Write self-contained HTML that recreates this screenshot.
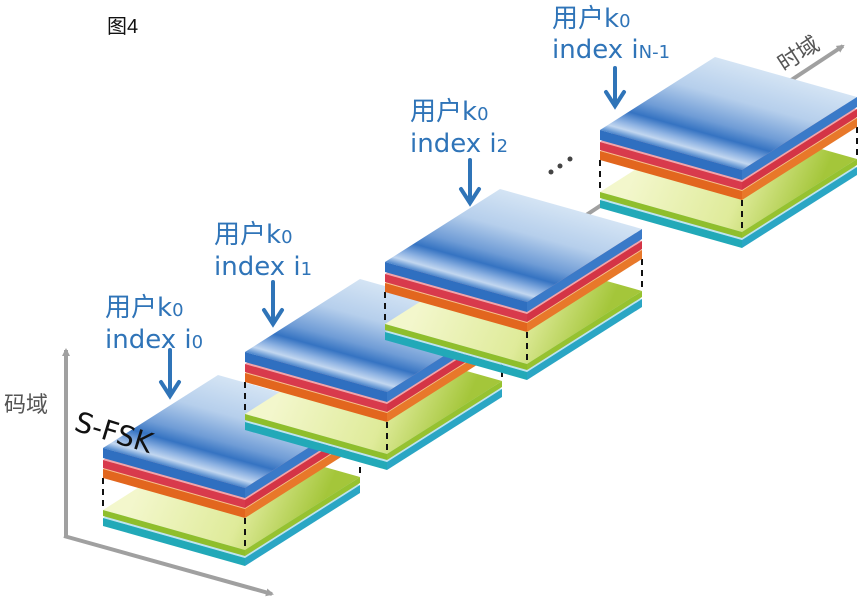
<!DOCTYPE html>
<html><head><meta charset="utf-8"><style>
html,body{margin:0;padding:0;background:#fff;}
svg{display:block;}
text{font-family:"Liberation Sans","Noto Sans CJK SC",sans-serif;}
.lb{font-family:"DejaVu Sans","Noto Sans CJK SC",sans-serif;}
</style></head><body>
<svg width="858" height="599" viewBox="0 0 858 599" xmlns="http://www.w3.org/2000/svg">
<defs>
<linearGradient id="gb" gradientUnits="userSpaceOnUse" x1="98.5" y1="-77.7" x2="71" y2="20">
<stop offset="0" stop-color="#d4e4f4"/><stop offset="0.35" stop-color="#b6cfec"/>
<stop offset="0.62" stop-color="#6f9cd6"/><stop offset="0.75" stop-color="#3573c2"/>
<stop offset="0.86" stop-color="#8db2e2"/><stop offset="0.93" stop-color="#c2d7f0"/>
<stop offset="1" stop-color="#4a85cc"/>
</linearGradient>
<linearGradient id="gg" gradientUnits="userSpaceOnUse" x1="40" y1="30" x2="200" y2="100">
<stop offset="0" stop-color="#f3f7cc"/><stop offset="0.6" stop-color="#dfeb9a"/><stop offset="1" stop-color="#a4c63a"/>
</linearGradient>
<marker id="ah" markerWidth="8" markerHeight="8" refX="6" refY="4" orient="auto" markerUnits="userSpaceOnUse">
<path d="M0,0 L8,4 L0,8 Z" fill="#a0a0a0"/></marker>
<g id="stk">
<polygon points="0,70 142,110 257,37 115,-3" fill="#bfe4ef"/>
<polygon points="0,70 142,110 142,118 0,78" fill="#22a9b8"/>
<polygon points="142,110 257,37 257,45 142,118" fill="#2aa6c4"/>
<polygon points="0,62 142,102 257,29 115,-11" fill="url(#gg)"/>
<polygon points="0,62 142,102 142,108 0,68" fill="#8fbe2c"/>
<polygon points="142,102 257,29 257,35 142,108" fill="#96c230"/>
<g stroke="#111" stroke-width="2" stroke-dasharray="6,5">
<line x1="0" y1="30" x2="0" y2="62"/><line x1="142" y1="70" x2="142" y2="102"/><line x1="257" y1="-3" x2="257" y2="29"/>
</g>
<polygon points="0,21 142,61 257,-12 115,-52" fill="#f7c090"/>
<polygon points="0,21 142,61 142,70 0,30" fill="#e2661e"/>
<polygon points="142,61 257,-12 257,-3 142,70" fill="#e8782a"/>
<polygon points="0,12 142,52 257,-21 115,-61" fill="#f2a4ac"/>
<polygon points="0,12 142,52 142,60 0,20" fill="#d83a4c"/>
<polygon points="142,52 257,-21 257,-13 142,60" fill="#d43446"/>
<polygon points="0,0 142,40 257,-33 115,-73" fill="url(#gb)"/>
<polygon points="0,0 142,40 142,50 0,10" fill="#2f6fc0"/>
<polygon points="142,40 257,-33 257,-23 142,50" fill="#3a7ac8"/>
</g>
</defs>

<g stroke="#a0a0a0" stroke-width="4" fill="none">
<line x1="66" y1="537" x2="66" y2="350" marker-end="url(#ah)"/>
<line x1="64" y1="536" x2="272" y2="594" marker-end="url(#ah)"/>
<line x1="480" y1="285" x2="843" y2="46" marker-end="url(#ah)"/>
</g>

<use href="#stk" x="103" y="448"/>
<use href="#stk" x="245" y="352"/>
<use href="#stk" x="385" y="262"/>
<use href="#stk" x="600" y="130"/>

<text x="107" y="33" font-size="20" fill="#111">图4</text>
<text x="4" y="412" font-size="22" fill="#555">码域</text>
<text x="0" y="0" font-size="22" fill="#555" transform="translate(784,72) rotate(-33)">时域</text>
<text class="lb" x="0" y="0" font-size="28" fill="#111" transform="translate(73,430) rotate(17)">S-FSK</text>
<g fill="#444"><circle cx="551" cy="172" r="2.5"/><circle cx="560" cy="166" r="2.5"/><circle cx="570" cy="159" r="2.5"/></g>

<g fill="#2f74b8" font-size="26">
<text class="lb" x="105" y="316">用户k<tspan font-size="18">0</tspan></text>
<text class="lb" x="105" y="348">index i<tspan font-size="18">0</tspan></text>
<text class="lb" x="214" y="243">用户k<tspan font-size="18">0</tspan></text>
<text class="lb" x="214" y="275">index i<tspan font-size="18">1</tspan></text>
<text class="lb" x="410" y="120">用户k<tspan font-size="18">0</tspan></text>
<text class="lb" x="410" y="152">index i<tspan font-size="18">2</tspan></text>
<text class="lb" x="552" y="27">用户k<tspan font-size="18">0</tspan></text>
<text class="lb" x="552" y="58">index i<tspan font-size="18">N-1</tspan></text>
</g>
<g stroke="#2f74b8" stroke-width="4" fill="none" stroke-linecap="round">
<path d="M170,350 V394 M161,382 L170,396 L179,382"/>
<path d="M273,282 V322 M264,310 L273,324 L282,310"/>
<path d="M470,160 V201 M461,189 L470,203 L479,189"/>
<path d="M615,68 V104 M606,92 L615,106 L624,92"/>
</g>
</svg>
</body></html>
